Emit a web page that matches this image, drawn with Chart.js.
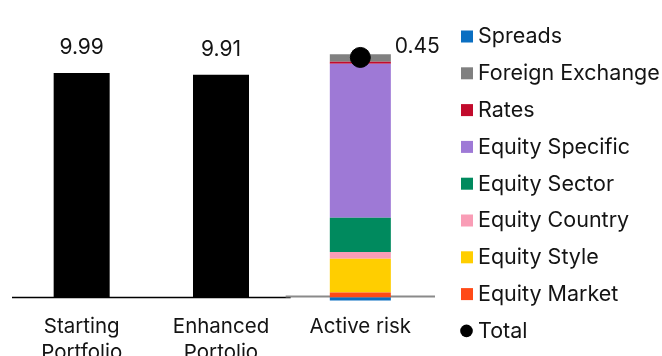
<!DOCTYPE html>
<html>
<head>
<meta charset="utf-8">
<script src="https://cdn.jsdelivr.net/npm/chart.js@4.4.1/dist/chart.umd.min.js"></script>
<style>
  html, body { margin: 0; padding: 0; background: #fff; overflow: hidden; }
  #wrap { position: relative; width: 662px; height: 400px; }
</style>
</head>
<body>
<div id="wrap"><canvas id="riskChart"></canvas></div>
<script>
// Categories on the x axis
const categories = [["Starting", "Portfolio"], ["Enhanced", "Portolio"], "Active risk"];

// Total risk of each portfolio (left scale)
const portfolioRisk = [9.99, 9.91, null];

// Active risk split by factor, bottom of the stack first (right scale)
const factorNames = ["Equity Market", "Equity Style", "Equity Country", "Equity Sector",
  "Equity Specific", "Rates", "Foreign Exchange", "Spreads"];
const factorRisk = [0.009, 0.063, 0.013, 0.064, 0.289, 0.004, 0.014, -0.006];
const factorColors = ["#ff4a17", "#ffce00", "#f99db6", "#008a5e",
  "#9e79d6", "#c20b2c", "#808080", "#0a6fc2"];

// Net active risk
const totalRisk = [null, null, 0.45];

const FONT = "Inter, 'Noto Sans', sans-serif";
const TEXT = "#141414";

// one dataset per factor, only the "Active risk" slot has a value
const factorSets = factorNames.map((name, i) => ({
  type: "bar",
  label: name,
  data: categories.map((c, j) => (j === 2 ? factorRisk[i] : null)),
  backgroundColor: factorColors[i],
  yAxisID: "y2",
  barPercentage: 0.438,
  categoryPercentage: 1,
  clip: false,
}));

// axis line: black under the portfolios, grey under the active risk bar
const baseLines = {
  id: "baseLines",
  beforeDatasetsDraw(chart) {
    const { ctx, chartArea, scales } = chart;
    const x = scales.x;
    const y0 = scales.y.getPixelForValue(0);
    const split = (x.getPixelForValue(1) + x.getPixelForValue(2)) / 2;
    ctx.save();
    ctx.strokeStyle = "#000";
    ctx.lineWidth = 1.5;
    ctx.beginPath();
    ctx.moveTo(chartArea.left, y0 + 0.3);
    ctx.lineTo(split, y0 + 0.3);
    ctx.stroke();
    ctx.strokeStyle = "#8a8a8a";
    ctx.lineWidth = 2;
    ctx.beginPath();
    ctx.moveTo(split - 5, y0 - 0.7);
    ctx.lineTo(chartArea.right + 5, y0 - 0.7);
    ctx.stroke();
    ctx.restore();
  },
};

// value labels above the black bars and beside the total dot
const valueLabels = {
  id: "valueLabels",
  afterDatasetsDraw(chart) {
    const { ctx } = chart;
    ctx.save();
    ctx.fillStyle = TEXT;
    ctx.font = "21px " + FONT;
    ctx.textAlign = "center";
    ctx.textBaseline = "middle";
    chart.getDatasetMeta(1).data.forEach((bar, i) => {
      if (portfolioRisk[i] == null) return;
      ctx.fillText(portfolioRisk[i].toFixed(2), bar.x, bar.y - 25);
    });
    chart.getDatasetMeta(0).data.forEach((pt, i) => {
      if (totalRisk[i] == null) return;
      ctx.fillText(totalRisk[i].toFixed(2), pt.x + 57, pt.y - 11);
    });
    ctx.restore();
  },
};

// legend on the right: factors top of stack first, then the total
const sideLegend = {
  id: "sideLegend",
  afterDraw(chart) {
    const { ctx } = chart;
    const sets = chart.data.datasets.slice(2).reverse();
    sets.push(chart.data.datasets[0]);
    ctx.save();
    ctx.font = "21.5px " + FONT;
    ctx.textBaseline = "middle";
    sets.forEach((ds, i) => {
      const y = 36.5 + i * 36.8;
      ctx.fillStyle = ds.backgroundColor;
      if (ds.type === "line") {
        ctx.beginPath();
        ctx.arc(466.5, y, 6.3, 0, Math.PI * 2);
        ctx.fill();
      } else {
        ctx.fillRect(461, y - 6, 12, 12);
      }
      ctx.fillStyle = TEXT;
      ctx.fillText(ds.label, 478, y + 0.5);
    });
    ctx.restore();
  },
};

new Chart(document.getElementById("riskChart"), {
  data: {
    labels: categories,
    datasets: [
      {
        type: "line",
        label: "Total",
        data: totalRisk,
        yAxisID: "y2",
        showLine: false,
        pointRadius: 10,
        pointHoverRadius: 10,
        backgroundColor: "#000",
        borderColor: "#000",
        clip: false,
      },
      {
        type: "bar",
        label: "Portfolio",
        data: portfolioRisk,
        backgroundColor: "#000",
        yAxisID: "y",
        barPercentage: 0.402,
        categoryPercentage: 1,
      },
      ...factorSets,
    ],
  },
  options: {
    responsive: true,
    maintainAspectRatio: false,
    animation: false,
    layout: { padding: { left: 12, right: 232, top: 26, bottom: 25.5 } },
    plugins: { legend: { display: false }, tooltip: { enabled: false } },
    scales: {
      x: {
        stacked: true,
        offset: true,
        grid: { display: false },
        border: { display: false },
        ticks: {
          color: TEXT,
          padding: 8,
          font: { family: FONT, size: 20.5, lineHeight: 1.3 },
          maxRotation: 0,
        },
      },
      y: { display: false, min: 0, max: 12.08 },
      y2: { display: false, stacked: true, min: 0, max: 0.509 },
    },
  },
  plugins: [baseLines, valueLabels, sideLegend],
});
</script>
</body>
</html>
